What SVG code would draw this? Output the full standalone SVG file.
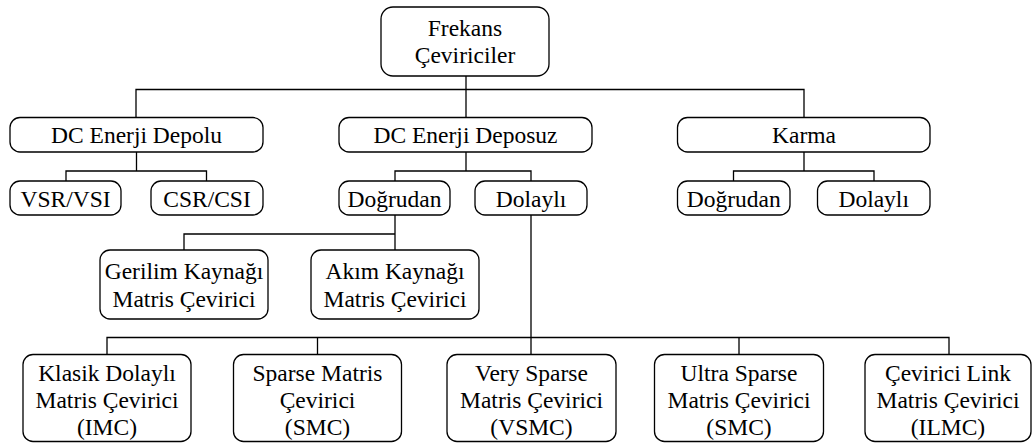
<svg xmlns="http://www.w3.org/2000/svg" width="1032" height="443" viewBox="0 0 1032 443">
<defs>
<style>
.box{fill:#fff;stroke:#000;stroke-width:1.3}
.wire{fill:none;stroke:#000;stroke-width:1.3}
</style>
</defs>
<rect width="1032" height="443" fill="#fff"/>
<g id="connectors">
<path class="wire" d="M466 76V117M136 117V89.5H804V117"/>
<path class="wire" d="M136.5 152V171M66 181V171H206.5V181"/>
<path class="wire" d="M466 152V171M395 181V171H531V181"/>
<path class="wire" d="M804 152V171M733.5 181V171H874V181"/>
<path class="wire" d="M395 215V234M184 250V234H395V250"/>
<path class="wire" d="M531 215V354M107 354V337.5H949V354M317.5 337.5V354M739 337.5V354"/>
</g>
<g id="frekans-ceviriciler"><rect class="box" x="381" y="7" width="168" height="69" rx="12"/><text x="465" y="36" font-size="23.5" font-family="Liberation Serif" text-anchor="middle">Frekans</text><text x="465" y="63" font-size="23.5" font-family="Liberation Serif" text-anchor="middle">Çeviriciler</text></g>
<g id="dc-depolu"><rect class="box" x="10" y="117.5" width="253" height="34.5" rx="10"/><text x="136.5" y="143" font-size="23.5" font-family="Liberation Serif" text-anchor="middle">DC Enerji Depolu</text></g>
<g id="dc-deposuz"><rect class="box" x="339" y="117.5" width="253" height="34.5" rx="10"/><text x="465.5" y="143" font-size="23.5" font-family="Liberation Serif" text-anchor="middle">DC Enerji Deposuz</text></g>
<g id="karma"><rect class="box" x="677.5" y="117.5" width="252.5" height="34.5" rx="10"/><text x="804" y="143" font-size="23.5" font-family="Liberation Serif" text-anchor="middle">Karma</text></g>
<g id="vsr"><rect class="box" x="10" y="181" width="111" height="34" rx="10"/><text x="65.5" y="206.5" font-size="23.5" font-family="Liberation Serif" text-anchor="middle">VSR/VSI</text></g>
<g id="csr"><rect class="box" x="151" y="181" width="112" height="34" rx="10"/><text x="207" y="206.5" font-size="23.5" font-family="Liberation Serif" text-anchor="middle">CSR/CSI</text></g>
<g id="dogrudan1"><rect class="box" x="339" y="181" width="111" height="34" rx="10"/><text x="394.5" y="206.5" font-size="23.5" font-family="Liberation Serif" text-anchor="middle">Doğrudan</text></g>
<g id="dolayli1"><rect class="box" x="475" y="181" width="112" height="34" rx="10"/><text x="531" y="206.5" font-size="23.5" font-family="Liberation Serif" text-anchor="middle">Dolaylı</text></g>
<g id="dogrudan2"><rect class="box" x="677.5" y="181" width="112.5" height="34" rx="10"/><text x="733.7" y="206.5" font-size="23.5" font-family="Liberation Serif" text-anchor="middle">Doğrudan</text></g>
<g id="dolayli2"><rect class="box" x="817.5" y="181" width="112.5" height="34" rx="10"/><text x="873.7" y="206.5" font-size="23.5" font-family="Liberation Serif" text-anchor="middle">Dolaylı</text></g>
<g id="gerilim"><rect class="box" x="100" y="250" width="168" height="69" rx="10"/><text x="184" y="279" font-size="23.5" font-family="Liberation Serif" text-anchor="middle">Gerilim Kaynağı</text><text x="184" y="307" font-size="23.5" font-family="Liberation Serif" text-anchor="middle">Matris Çevirici</text></g>
<g id="akim"><rect class="box" x="311" y="250" width="168" height="69" rx="10"/><text x="395" y="279" font-size="23.5" font-family="Liberation Serif" text-anchor="middle">Akım Kaynağı</text><text x="395" y="307" font-size="23.5" font-family="Liberation Serif" text-anchor="middle">Matris Çevirici</text></g>
<g id="imc"><rect class="box" x="23" y="354.5" width="168" height="87" rx="10"/><text x="107" y="381" font-size="23.5" font-family="Liberation Serif" text-anchor="middle">Klasik Dolaylı</text><text x="107" y="408" font-size="23.5" font-family="Liberation Serif" text-anchor="middle">Matris Çevirici</text><text x="107" y="435" font-size="23.5" font-family="Liberation Serif" text-anchor="middle">(IMC)</text></g>
<g id="smc"><rect class="box" x="233.5" y="354.5" width="168" height="87" rx="10"/><text x="317.5" y="381" font-size="23.5" font-family="Liberation Serif" text-anchor="middle">Sparse Matris</text><text x="317.5" y="408" font-size="23.5" font-family="Liberation Serif" text-anchor="middle">Çevirici</text><text x="317.5" y="435" font-size="23.5" font-family="Liberation Serif" text-anchor="middle">(SMC)</text></g>
<g id="vsmc"><rect class="box" x="447" y="354.5" width="169" height="87" rx="10"/><text x="531.5" y="381" font-size="23.5" font-family="Liberation Serif" text-anchor="middle">Very Sparse</text><text x="531.5" y="408" font-size="23.5" font-family="Liberation Serif" text-anchor="middle">Matris Çevirici</text><text x="531.5" y="435" font-size="23.5" font-family="Liberation Serif" text-anchor="middle">(VSMC)</text></g>
<g id="usmc"><rect class="box" x="654.5" y="354.5" width="169" height="87" rx="10"/><text x="739" y="381" font-size="23.5" font-family="Liberation Serif" text-anchor="middle">Ultra Sparse</text><text x="739" y="408" font-size="23.5" font-family="Liberation Serif" text-anchor="middle">Matris Çevirici</text><text x="739" y="435" font-size="23.5" font-family="Liberation Serif" text-anchor="middle">(SMC)</text></g>
<g id="ilmc"><rect class="box" x="865" y="354.5" width="166" height="87" rx="10"/><text x="948" y="381" font-size="23.5" font-family="Liberation Serif" text-anchor="middle">Çevirici Link</text><text x="948" y="408" font-size="23.5" font-family="Liberation Serif" text-anchor="middle">Matris Çevirici</text><text x="948" y="435" font-size="23.5" font-family="Liberation Serif" text-anchor="middle">(ILMC)</text></g>
</svg>
